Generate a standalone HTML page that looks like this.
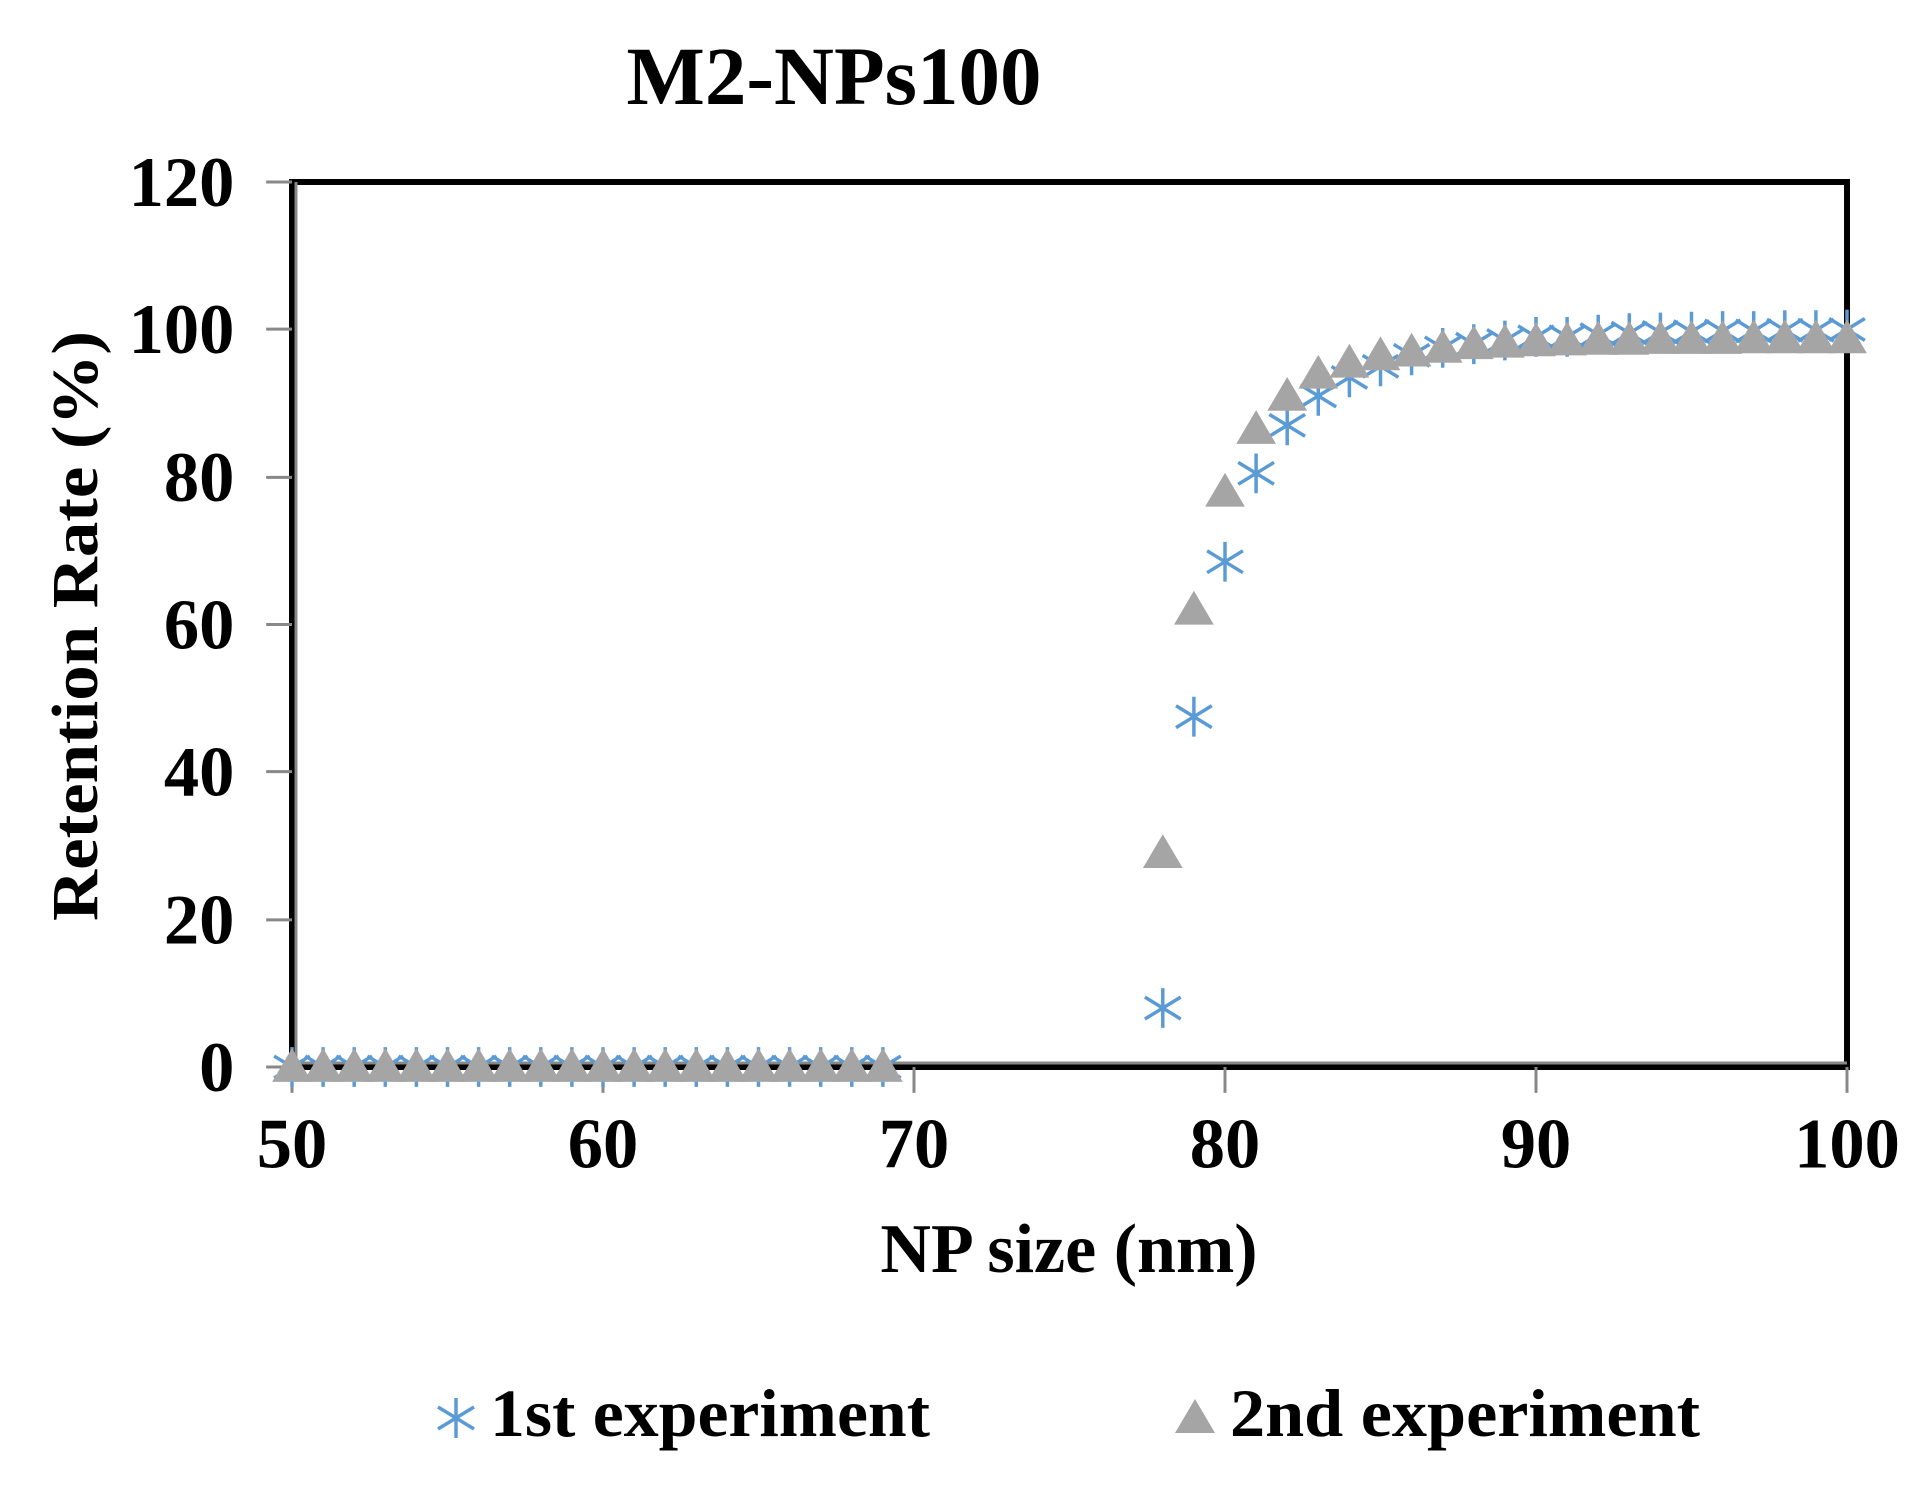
<!DOCTYPE html>
<html><head><meta charset="utf-8"><style>html,body{margin:0;padding:0;background:#fff}</style></head>
<body>
<svg width="1932" height="1498" viewBox="0 0 1932 1498" xmlns="http://www.w3.org/2000/svg" xmlns:xlink="http://www.w3.org/1999/xlink" font-family="'Liberation Serif', serif" font-weight="bold">
<defs>
<g id="ast"><path d="M-18,-11 L18,11 M-18,11 L18,-11 M0,-20 L0,20" stroke="#5B9BD5" stroke-width="3.5" fill="none"/></g>
<g id="tri"><path d="M0,-19 L20,15 L-20,15 Z" fill="#A5A5A5"/></g>
</defs>
<text x="834" y="104" font-size="83" text-anchor="middle">M2-NPs100</text>
<g transform="matrix(0.99361 0 0 0.99438 1.866 0.03)">
<rect x="292" y="183" width="1565" height="890" fill="none" stroke="#000" stroke-width="6"/>
<line x1="296" y1="183" x2="296" y2="1073" stroke="#888" stroke-width="3"/>
<line x1="292" y1="1069" x2="1857" y2="1069" stroke="#888" stroke-width="3"/>
<g stroke="#888" stroke-width="3">
<line x1="266" y1="183" x2="292" y2="183"/><line x1="266" y1="331" x2="292" y2="331"/><line x1="266" y1="480" x2="292" y2="480"/><line x1="266" y1="628" x2="292" y2="628"/><line x1="266" y1="776" x2="292" y2="776"/><line x1="266" y1="925" x2="292" y2="925"/><line x1="266" y1="1073" x2="292" y2="1073"/>
<line x1="292" y1="1073" x2="292" y2="1099"/><line x1="605" y1="1073" x2="605" y2="1099"/><line x1="918" y1="1073" x2="918" y2="1099"/><line x1="1231" y1="1073" x2="1231" y2="1099"/><line x1="1544" y1="1073" x2="1544" y2="1099"/><line x1="1857" y1="1073" x2="1857" y2="1099"/>
</g>
<g font-size="71" text-anchor="end">
<text x="234" y="207">120</text><text x="234" y="355">100</text><text x="234" y="504">80</text><text x="234" y="652">60</text><text x="234" y="800">40</text><text x="234" y="949">20</text><text x="234" y="1097">0</text>
</g>
<g font-size="71" text-anchor="middle">
<text x="292" y="1174">50</text><text x="605" y="1174">60</text><text x="918" y="1174">70</text><text x="1231" y="1174">80</text><text x="1544" y="1174">90</text><text x="1857" y="1174">100</text>
</g>
<g>
<use xlink:href="#ast" x="292" y="1073"/><use xlink:href="#ast" x="323.3" y="1073"/><use xlink:href="#ast" x="354.6" y="1073"/><use xlink:href="#ast" x="385.9" y="1073"/><use xlink:href="#ast" x="417.2" y="1073"/><use xlink:href="#ast" x="448.5" y="1073"/><use xlink:href="#ast" x="479.8" y="1073"/><use xlink:href="#ast" x="511.1" y="1073"/><use xlink:href="#ast" x="542.4" y="1073"/><use xlink:href="#ast" x="573.7" y="1073"/><use xlink:href="#ast" x="605" y="1073"/><use xlink:href="#ast" x="636.3" y="1073"/><use xlink:href="#ast" x="667.6" y="1073"/><use xlink:href="#ast" x="698.9" y="1073"/><use xlink:href="#ast" x="730.2" y="1073"/><use xlink:href="#ast" x="761.5" y="1073"/><use xlink:href="#ast" x="792.8" y="1073"/><use xlink:href="#ast" x="824.1" y="1073"/><use xlink:href="#ast" x="855.4" y="1073"/><use xlink:href="#ast" x="886.7" y="1073"/>
<use xlink:href="#ast" x="1168.4" y="1013.7"/><use xlink:href="#ast" x="1199.7" y="720.7"/><use xlink:href="#ast" x="1231" y="564.9"/><use xlink:href="#ast" x="1262.3" y="476"/><use xlink:href="#ast" x="1293.6" y="427.7"/><use xlink:href="#ast" x="1324.9" y="398.1"/><use xlink:href="#ast" x="1356.2" y="379.5"/><use xlink:href="#ast" x="1387.5" y="368.4"/><use xlink:href="#ast" x="1418.8" y="357.3"/><use xlink:href="#ast" x="1450.1" y="349.8"/><use xlink:href="#ast" x="1481.4" y="346.1"/><use xlink:href="#ast" x="1512.7" y="342.4"/><use xlink:href="#ast" x="1544" y="338.7"/><use xlink:href="#ast" x="1575.3" y="338.7"/><use xlink:href="#ast" x="1606.6" y="336.5"/><use xlink:href="#ast" x="1637.9" y="335"/><use xlink:href="#ast" x="1669.2" y="334.3"/><use xlink:href="#ast" x="1700.5" y="333.5"/><use xlink:href="#ast" x="1731.8" y="332.8"/><use xlink:href="#ast" x="1763.1" y="332.8"/><use xlink:href="#ast" x="1794.4" y="332"/><use xlink:href="#ast" x="1825.7" y="332"/><use xlink:href="#ast" x="1857" y="331.3"/>
</g>
<g>
<use xlink:href="#tri" x="292" y="1073"/><use xlink:href="#tri" x="323.3" y="1073"/><use xlink:href="#tri" x="354.6" y="1073"/><use xlink:href="#tri" x="385.9" y="1073"/><use xlink:href="#tri" x="417.2" y="1073"/><use xlink:href="#tri" x="448.5" y="1073"/><use xlink:href="#tri" x="479.8" y="1073"/><use xlink:href="#tri" x="511.1" y="1073"/><use xlink:href="#tri" x="542.4" y="1073"/><use xlink:href="#tri" x="573.7" y="1073"/><use xlink:href="#tri" x="605" y="1073"/><use xlink:href="#tri" x="636.3" y="1073"/><use xlink:href="#tri" x="667.6" y="1073"/><use xlink:href="#tri" x="698.9" y="1073"/><use xlink:href="#tri" x="730.2" y="1073"/><use xlink:href="#tri" x="761.5" y="1073"/><use xlink:href="#tri" x="792.8" y="1073"/><use xlink:href="#tri" x="824.1" y="1073"/><use xlink:href="#tri" x="855.4" y="1073"/><use xlink:href="#tri" x="886.7" y="1073"/>
<use xlink:href="#tri" x="1168.4" y="857.9"/><use xlink:href="#tri" x="1199.7" y="613.1"/><use xlink:href="#tri" x="1231" y="494.5"/><use xlink:href="#tri" x="1262.3" y="431.4"/><use xlink:href="#tri" x="1293.6" y="398.1"/><use xlink:href="#tri" x="1324.9" y="375.8"/><use xlink:href="#tri" x="1356.2" y="364.7"/><use xlink:href="#tri" x="1387.5" y="357.3"/><use xlink:href="#tri" x="1418.8" y="353.6"/><use xlink:href="#tri" x="1450.1" y="349.8"/><use xlink:href="#tri" x="1481.4" y="346.1"/><use xlink:href="#tri" x="1512.7" y="344.6"/><use xlink:href="#tri" x="1544" y="343.2"/><use xlink:href="#tri" x="1575.3" y="342.4"/><use xlink:href="#tri" x="1606.6" y="341.7"/><use xlink:href="#tri" x="1637.9" y="341.7"/><use xlink:href="#tri" x="1669.2" y="340.9"/><use xlink:href="#tri" x="1700.5" y="340.9"/><use xlink:href="#tri" x="1731.8" y="340.9"/><use xlink:href="#tri" x="1763.1" y="340.2"/><use xlink:href="#tri" x="1794.4" y="340.2"/><use xlink:href="#tri" x="1825.7" y="340.2"/><use xlink:href="#tri" x="1857" y="340.2"/>
</g>
</g>
<text x="1069" y="1272" font-size="70" text-anchor="middle">NP size (nm)</text>
<text transform="translate(97,626) rotate(-90)" font-size="66" text-anchor="middle" textLength="590" lengthAdjust="spacingAndGlyphs">Retention Rate (%)</text>
<use xlink:href="#ast" x="456" y="1418"/>
<text x="490" y="1436" font-size="68" textLength="440" lengthAdjust="spacingAndGlyphs">1st experiment</text>
<use xlink:href="#tri" x="1195" y="1418"/>
<text x="1230" y="1436" font-size="68" textLength="470" lengthAdjust="spacingAndGlyphs">2nd experiment</text>
</svg>
</body></html>
